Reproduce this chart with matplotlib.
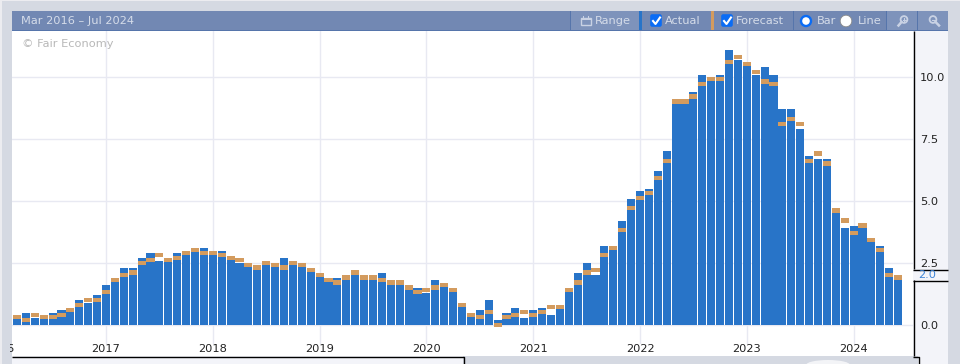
import numpy as np
import matplotlib
matplotlib.use('Agg')
import matplotlib.pyplot as plt
from matplotlib.patches import Rectangle, Circle, Ellipse, FancyBboxPatch
from matplotlib.transforms import Bbox

plt.rcParams['font.family'] = ['DejaVu Sans']

# 値は画像から読み取り
actual = [0.3, 0.5, 0.3, 0.3, 0.5, 0.6, 0.6, 1.0, 0.9, 1.2, 1.6, 1.8, 2.3, 2.3, 2.7, 2.9, 2.6, 2.6, 2.9, 3.0,
          3.0, 3.1, 3.0, 3.0, 2.7, 2.5, 2.4, 2.4, 2.4, 2.5, 2.7, 2.4, 2.4, 2.3, 2.1, 1.8, 1.9, 1.9, 2.1, 2.0,
          2.0, 2.1, 1.7, 1.7, 1.5, 1.5, 1.3, 1.8, 1.7, 1.5, 0.8, 0.5, 0.6, 1.0, 0.2, 0.5, 0.7, 0.3, 0.6, 0.7,
          0.4, 0.7, 1.5, 2.1, 2.5, 2.0, 3.2, 3.1, 4.2, 5.1, 5.4, 5.5, 6.2, 7.0, 9.0, 9.1, 9.4, 10.1, 9.9, 10.1,
          11.1, 10.7, 10.5, 10.1, 10.4, 10.1, 8.7, 8.7, 7.9, 6.8, 6.7, 6.7, 4.6, 3.9, 4.0, 4.0, 3.4, 3.2, 2.3, 2.0]
forecast = [0.4, 0.3, 0.5, 0.4, 0.4, 0.5, 0.7, 0.9, 1.1, 1.1, 1.4, 1.9, 2.1, 2.2, 2.6, 2.7, 2.9, 2.7, 2.8, 3.0,
            3.1, 3.0, 3.0, 2.9, 2.8, 2.7, 2.5, 2.4, 2.6, 2.5, 2.4, 2.6, 2.5, 2.3, 2.1, 1.9, 1.8, 2.0, 2.2, 2.0,
            2.0, 1.9, 1.8, 1.8, 1.6, 1.4, 1.5, 1.6, 1.7, 1.5, 0.9, 0.5, 0.4, 0.6, 0.1, 0.4, 0.5, 0.6, 0.5, 0.6,
            0.8, 0.8, 1.5, 1.8, 2.2, 2.3, 2.9, 3.2, 3.9, 4.8, 5.2, 5.4, 6.0, 6.7, 9.1, 9.1, 9.3, 9.8, 10.0, 10.0,
            10.7, 10.9, 10.6, 10.3, 9.9, 9.8, 8.2, 8.4, 8.2, 6.7, 7.0, 6.6, 4.7, 4.3, 3.8, 4.1, 3.5, 3.1, 2.1, 2.0]
year_ticks = [10, 22, 34, 46, 58, 70, 82, 94]
year_labels = ['2017', '2018', '2019', '2020', '2021', '2022', '2023', '2024']
y_ticks = [0, 2.5, 5, 7.5, 10]

W, H = 960, 364
BLUE = '#2874c8'
ORANGE = '#d39b5e'
GRID = '#e8e9f2'
FRAME = '#d5d9e2'
PANEL = '#f3f4f9'
BAND = '#7288b3'
BAND_TEXT = '#d5dce9'
ICON = '#c9d2e4'
FS = 8.2

fig = plt.figure(figsize=(W / 100, H / 100), dpi=100, facecolor=FRAME)


def px_axes(zorder):
    a = fig.add_axes([0, 0, 1, 1], zorder=zorder)
    a.set_xlim(0, W)
    a.set_ylim(H, 0)
    a.axis('off')
    return a


def rect(a, x0, y0, x1, y1, color):
    a.add_patch(Rectangle((x0, y0), x1 - x0, y1 - y0, facecolor=color, edgecolor='none'))


# 背景パネル
bg = px_axes(0)
rect(bg, 0, 0, W, 1, '#ececf0')
rect(bg, 0, 0, 2, H, '#ececf0')
rect(bg, 12, 31, 913, 356, 'white')
rect(bg, 913, 31, 948, H, PANEL)
rect(bg, 12, 356, 463, H, PANEL)
rect(bg, 913, 356, 918, H, FRAME)
rect(bg, 2, 356, 12, H, FRAME)
bg.add_patch(Ellipse((828, 365), 44, 10, facecolor='#f3f4f7', edgecolor='none'))

# チャート本体 (x: 8.9px/月, y: 0=325px, 24.8px/単位)
ax = fig.add_axes([12 / W, (H - 344) / H, (913 - 12) / W, (344 - 31) / H], zorder=1)
ax.patch.set_alpha(0)
x = np.arange(len(actual))
fc = np.array(forecast)
ax.bar(x, actual, width=0.9, color=BLUE, zorder=3)
ax.bar(x, 0.17, bottom=fc - 0.17, width=0.9, color=ORANGE, zorder=4)
ax.set_xlim((12 - 17) / 8.9, (913 - 17) / 8.9)
ax.set_ylim((325 - 344) / 24.8, (325 - 31) / 24.8)
ax.set_xticks(year_ticks, year_labels)
ax.set_yticks(y_ticks, ['0.0', '2.5', '5.0', '7.5', '10.0'])
ax.yaxis.tick_right()
ax.tick_params(length=0, labelsize=FS, labelcolor='#222222')
ax.tick_params(axis='x', pad=0)
ax.tick_params(axis='y', pad=5)
ax.grid(True, color=GRID, linewidth=1)
ax.set_axisbelow(True)
for s in ax.spines.values():
    s.set_visible(False)

# ヘッダーと枠線
top = px_axes(2)
rect(top, 12, 11, 948, 30, BAND)
rect(top, 12, 30, 948, 31, '#5675ab')
rect(top, 570, 11, 639, 30, '#7e93bb')
rect(top, 639, 11, 642, 30, BLUE)
rect(top, 711, 11, 714, 30, ORANGE)
rect(top, 886, 11, 948, 30, '#7e93bb')
for sx in [570, 793, 886, 917]:
    rect(top, sx, 11, sx + 1, 30, '#5675ab')

band_kw = dict(color=BAND_TEXT, fontsize=FS, va='center')
top.text(21, 21, 'Mar 2016 – Jul 2024', **band_kw)
top.text(595, 21, 'Range', **band_kw)
top.text(665, 21, 'Actual', **band_kw)
top.text(736, 21, 'Forecast', **band_kw)
top.text(817, 21, 'Bar', **band_kw)
top.text(858, 21, 'Line', **band_kw)
top.text(22, 44, '© Fair Economy', color='#b8b8b8', fontsize=FS, va='center')

# カレンダーアイコン
top.add_patch(Rectangle((581, 18), 10, 7, facecolor='none', edgecolor=ICON, linewidth=1))
rect(top, 581, 18, 591, 20, ICON)
rect(top, 583, 16, 584, 18, ICON)
rect(top, 588, 16, 589, 18, ICON)

# チェックボックス
for cx in [650, 721]:
    top.add_patch(FancyBboxPatch((cx + 1, 15), 10, 11, boxstyle='round,pad=0.8,rounding_size=2',
                                 facecolor='#0a6cf5', edgecolor='none'))
    top.plot([cx + 3, cx + 5.5, cx + 10], [21, 24, 17.5], color='white', linewidth=1.5)

# ラジオボタン
top.add_patch(Circle((806, 21), 5.0, facecolor='white', edgecolor='#0a6cf5', linewidth=1.7))
top.add_patch(Circle((846, 21), 5.8, facecolor='white', edgecolor='#8a8a8a', linewidth=0.6))

# 拡大・縮小アイコン
top.add_patch(Circle((904, 19.5), 3.4, facecolor='none', edgecolor=ICON, linewidth=1.3))
top.plot([901.5, 898.5], [22, 25.5], color=ICON, linewidth=1.8)
top.plot([902.5, 905.5], [19.5, 19.5], color=ICON, linewidth=0.8)
top.plot([904, 904], [18, 21], color=ICON, linewidth=0.8)
top.add_patch(Circle((933, 19.5), 3.4, facecolor='none', edgecolor=ICON, linewidth=1.3))
top.plot([935.5, 939], [22, 25.5], color=ICON, linewidth=1.8)
top.plot([931.5, 934.5], [19.5, 19.5], color=ICON, linewidth=0.8)

# 黒い枠線と現在値ラベル
line_kw = dict(color='black', linewidth=1, solid_capstyle='butt')
top.plot([913.5, 913.5], [31, 269], **line_kw)
top.plot([913.5, 913.5], [280, 356], **line_kw)
top.plot([913, 948], [269.5, 269.5], **line_kw)
top.plot([913, 948], [280.5, 280.5], **line_kw)
top.plot([12, 463.5, 463.5], [356.5, 356.5, H], **line_kw)
top.plot([913, 918.5, 918.5], [356.5, 356.5, H], **line_kw)
top.text(918, 275, '2.0', color='#3f86d8', fontsize=FS, va='center')

# 左端で切れた2016ラベルの末尾
clip_txt = top.text(10, 349.5, '6', color='#222222', fontsize=FS, ha='center', va='center', clip_on=True)
clip_txt.set_clip_box(Bbox([[10, H - 356], [14, H - 344]]))

top.set_xlim(0, W)
top.set_ylim(H, 0)

fig.savefig('out.png', dpi=100, facecolor=fig.get_facecolor())
